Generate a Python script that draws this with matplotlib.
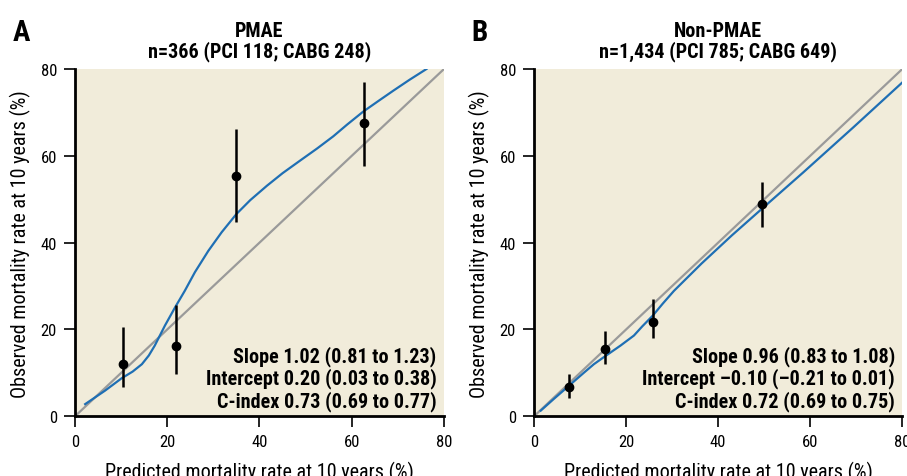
import matplotlib
matplotlib.use("Agg")
import matplotlib.pyplot as plt

plt.rcParams["font.family"] = ["Roboto Condensed", "Liberation Sans Narrow",
                               "DejaVu Sans Condensed", "Liberation Sans", "DejaVu Sans"]
plt.rcParams["font.stretch"] = "condensed"

# PMAE group: grouped observed vs predicted, with 95% CI
pmae_pred = [10.3, 22.0, 34.9, 62.6]
pmae_obs = [12.0, 16.3, 55.4, 67.6]
pmae_lo = [6.7, 9.8, 44.8, 57.7]
pmae_hi = [20.5, 25.6, 66.1, 77.1]
# smoothed calibration curve
pmae_curve_x = [2.2, 6.5, 10.1, 12.5, 14.5, 16.0, 17.3, 19.5, 21.7, 23.8, 26.0,
                28.9, 31.8, 35.0, 38.0, 41.6, 45.0, 48.8, 52.5, 56.0, 59.0, 62.5,
                66.0, 69.0, 72.5, 76.2]
pmae_curve_y = [2.8, 5.9, 8.75, 10.3, 12.0, 14.0, 16.3, 20.9, 25.1, 28.9, 33.2,
                38.1, 42.4, 46.6, 49.8, 53.1, 56.0, 58.9, 61.7, 64.5, 67.2, 70.2,
                72.8, 75.0, 77.5, 80.0]

# Non-PMAE group
non_pred = [7.7, 15.4, 25.8, 49.5]
non_obs = [6.7, 15.5, 21.8, 48.8]
non_lo = [4.2, 12.0, 18.1, 43.5]
non_hi = [9.8, 19.7, 27.1, 54.0]
non_curve_x = [1.45, 4.3, 7.6, 10.9, 13.0, 15.4, 18.8, 21.7, 23.5, 25.8, 28.0,
               30.4, 36.4, 43.0, 49.5, 58.5, 69.4, 80.0]
non_curve_y = [1.3, 4.0, 7.05, 10.1, 12.0, 13.8, 16.3, 18.6, 20.7, 23.2, 26.0,
               28.9, 35.2, 41.7, 47.8, 56.2, 66.6, 76.9]

stats_a = ["Slope 1.02 (0.81 to 1.23)",
           "Intercept 0.20 (0.03 to 0.38)",
           "C-index 0.73 (0.69 to 0.77)"]
stats_b = ["Slope 0.96 (0.83 to 1.08)",
           "Intercept \u20130.10 (\u20130.21 to 0.01)",
           "C-index 0.72 (0.69 to 0.75)"]

bg = "#f1ecda"
blue = "#1f6fb4"

fig = plt.figure(figsize=(9.07, 4.77), dpi=100)
ax1 = fig.add_axes([0.0827, 0.1252, 0.4068, 0.728])
ax2 = fig.add_axes([0.5888, 0.1252, 0.4060, 0.728])


def panel(ax, px, py, lo, hi, cx, cy, title, stats, letter):
    ax.set_facecolor(bg)
    ax.plot([0, 80], [0, 80], color="#9a9a9a", lw=1.6, zorder=2)
    ax.plot(cx, cy, color=blue, lw=1.6, zorder=3)
    yerr = [[o - l for o, l in zip(py, lo)], [h - o for o, h in zip(py, hi)]]
    ax.errorbar(px, py, yerr=yerr, fmt="o", color="black", ms=6,
                elinewidth=1.8, capsize=0, zorder=4)
    ax.set_xlim(0, 80)
    ax.set_ylim(0, 80)
    ax.set_xticks([0, 20, 40, 60, 80])
    ax.set_yticks([0, 20, 40, 60, 80])
    for s in ["top", "right"]:
        ax.spines[s].set_visible(False)
    for s in ["left", "bottom"]:
        ax.spines[s].set_linewidth(2)
    ax.tick_params(direction="out", length=8, width=1.2, labelsize=12, pad=5)
    ax.set_xlabel("Predicted mortality rate at 10 years (%)", fontsize=14.5, labelpad=8)
    ax.set_ylabel("Observed mortality rate at 10 years (%)", fontsize=14.5, labelpad=7)
    ax.set_title(title, fontsize=14.5, fontweight="bold", linespacing=1.05, pad=9)
    ax.text(0.98, 0.016, "\n".join(stats), transform=ax.transAxes, ha="right",
            va="bottom", fontsize=14.5, fontweight="bold", linespacing=1.12)
    ax.text(-0.17, 1.085, letter, transform=ax.transAxes, fontsize=21,
            fontweight="bold", va="baseline", ha="left")


panel(ax1, pmae_pred, pmae_obs, pmae_lo, pmae_hi, pmae_curve_x, pmae_curve_y,
      "PMAE\nn=366 (PCI 118; CABG 248)", stats_a, "A")
panel(ax2, non_pred, non_obs, non_lo, non_hi, non_curve_x, non_curve_y,
      "Non-PMAE\nn=1,434 (PCI 785; CABG 649)", stats_b, "B")

fig.savefig("out.png", dpi=100)
